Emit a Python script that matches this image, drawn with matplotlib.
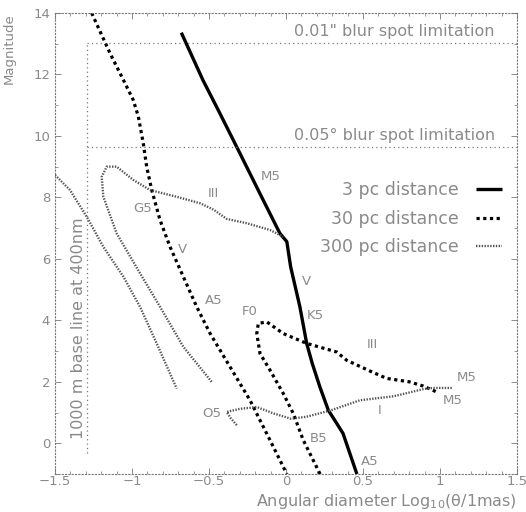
import matplotlib

matplotlib.use("Agg")
import matplotlib.pyplot as plt
from matplotlib.ticker import MultipleLocator

# --- data (x = log10(theta / 1mas), y = magnitude) ---
# 3 pc, main sequence (V)
v3_x = [-0.68, -0.54, -0.43, -0.30, -0.17, -0.04, 0.005, 0.03, 0.09, 0.134, 0.17, 0.22, 0.275, 0.32, 0.37, 0.46]
v3_y = [13.36, 11.82, 10.74, 9.44, 8.13, 6.83, 6.56, 5.74, 4.44, 3.25, 2.6, 1.83, 1.07, 0.72, 0.32, -1.0]

# 30 pc, main sequence (V) and giants (III)
v30_x = [-1.262, -1.143, -1.056, -0.992, -0.959, -0.927, -0.905, -0.872, -0.818, -0.753, -0.667,
         -0.58, -0.494, -0.364, -0.234, -0.104, 0.005]
v30_y = [14.0, 12.69, 11.82, 11.17, 10.63, 9.76, 9.0, 8.24, 7.26, 6.39, 5.42,
         4.44, 3.58, 2.49, 1.40, 0.10, -1.0]
iii30_x = [0.221, 0.112, 0.047, -0.018, -0.104, -0.169, -0.19, -0.18, -0.125, -0.018, 0.134,
           0.329, 0.394, 0.545, 0.654, 0.80, 0.892, 0.978]
iii30_y = [-1.0, 0.10, 0.97, 1.62, 2.38, 2.92, 3.57, 3.9, 3.95, 3.57, 3.25,
           2.97, 2.70, 2.35, 2.11, 2.0, 1.86, 1.67]

# 300 pc, main sequence (V), giants (III), supergiants (I)
v300_x = [-1.5, -1.403, -1.294, -1.186, -1.056, -0.948, -0.84, -0.71]
v300_y = [8.73, 8.24, 7.37, 6.39, 5.42, 4.44, 3.25, 1.78]
iii300_x = [-0.483, -0.667, -0.818, -0.948, -1.10, -1.186, -1.197, -1.164, -1.10, -0.992, -0.883,
            -0.71, -0.558, -0.47, -0.385, -0.255, -0.104, -0.018]
iii300_y = [2.0, 3.14, 4.44, 5.53, 6.83, 8.02, 8.67, 9.0, 9.0, 8.57, 8.24,
            8.02, 7.81, 7.6, 7.3, 7.16, 6.94, 6.72]
i300_x = [-0.32, -0.36, -0.385, -0.30, -0.19, -0.08, 0.03, 0.13, 0.29, 0.48, 0.70, 0.89, 0.95, 1.08]
i300_y = [0.59, 0.82, 1.02, 1.12, 1.18, 0.97, 0.80, 0.86, 1.07, 1.40, 1.53, 1.76, 1.80, 1.80]

# limits drawn as reference lines
blur_mags = [13.03, 9.65]
blur_texts = ['0.01" blur spot limitation', "0.05\u00b0 blur spot limitation"]
baseline_x = -1.29
baseline_bottom = -0.33

# spectral type / class labels
labels = [
    ("M5", -0.10, 8.67), ("V", 0.135, 5.25), ("K5", 0.19, 4.17), ("A5", 0.545, -0.6),
    ("G5", -0.93, 7.65), ("V", -0.67, 6.29), ("A5", -0.47, 4.66), ("III", -0.47, 8.13),
    ("F0", -0.234, 4.28), ("III", 0.56, 3.2), ("M5", 1.17, 2.15), ("M5", 1.08, 1.4),
    ("I", 0.61, 1.07), ("O5", -0.48, 0.97), ("B5", 0.21, 0.16),
]

grey = "#8a8a8a"
plt.rcParams["font.family"] = ["DejaVu Sans"]

fig = plt.figure(figsize=(5.26, 5.12), dpi=100)
ax = fig.add_axes([0.1046, 0.0742, 0.8784, 0.9004])

style3 = dict(color="black", lw=2.4, ls="-", solid_capstyle="butt")
style30 = dict(color="black", lw=2.3, ls=(0, (1, 1.1)))
style300 = dict(color="#555555", lw=1.7, ls=(0, (0.6, 0.6)))

ax.plot(v3_x, v3_y, label="3 pc distance", **style3)
ax.plot(v30_x, v30_y, label="30 pc distance", **style30)
ax.plot(iii30_x, iii30_y, **style30)
ax.plot(v300_x, v300_y, label="300 pc distance", **style300)
ax.plot(iii300_x, iii300_y, **style300)
ax.plot(i300_x, i300_y, **style300)

# blur spot limits and baseline limit
ax.hlines(blur_mags, baseline_x, 1.5, colors="#777777", lw=0.9, linestyles=[(0, (1, 2.5))])
ax.vlines(baseline_x, baseline_bottom, blur_mags[0], colors="#777777", lw=0.9, linestyles=[(0, (1, 2.5))])
for m, t in zip(blur_mags, blur_texts):
    ax.text(1.355, m + 0.12, t, ha="right", va="bottom", fontsize=11.5, color=grey)
ax.text(-1.35, 3.75, "1000 m base line at 400nm", rotation=90, ha="center", va="center",
        fontsize=11.5, color=grey)

for t, x, y in labels:
    ax.text(x, y, t, ha="center", va="center", fontsize=9.5, color=grey)

leg = ax.legend(loc="upper right", bbox_to_anchor=(0.9675, 0.635), frameon=False, markerfirst=False,
                fontsize=12.5, handlelength=1.5, handletextpad=1.0, labelspacing=0.6,
                borderpad=0, borderaxespad=0)
for txt in leg.get_texts():
    txt.set_color(grey)

ax.set_xlim(-1.5, 1.5)
ax.set_ylim(-1, 14)
ax.xaxis.set_minor_locator(MultipleLocator(0.1))
ax.yaxis.set_minor_locator(MultipleLocator(1))
ax.set_xticks([-1.5, -1, -0.5, 0, 0.5, 1, 1.5], ["\u22121.5", "\u22121", "\u22120.5", "0", "0.5", "1", "1.5"])
ax.set_yticks(range(0, 15, 2))
ax.tick_params(which="both", direction="in", top=True, right=True, colors=grey, labelsize=9.5)
ax.tick_params(which="major", length=4, width=0.7)
ax.tick_params(which="minor", length=2, width=0.6)
ax.tick_params(axis="x", pad=1)

for s in ax.spines.values():
    s.set_linestyle((0, (1, 2)))
    s.set_color("#777777")
    s.set_linewidth(0.8)

ax.set_xlabel("Angular diameter Log$_{10}$(\u03b8/1mas)", loc="right", fontsize=11.5, color=grey)
ax.xaxis.set_label_coords(1.0, -0.04)
ax.set_ylabel("Magnitude", loc="top", fontsize=9.5, color=grey)
ax.yaxis.set_label_coords(-0.085, 1.0)

fig.savefig("out.png", dpi=100, facecolor="white")
